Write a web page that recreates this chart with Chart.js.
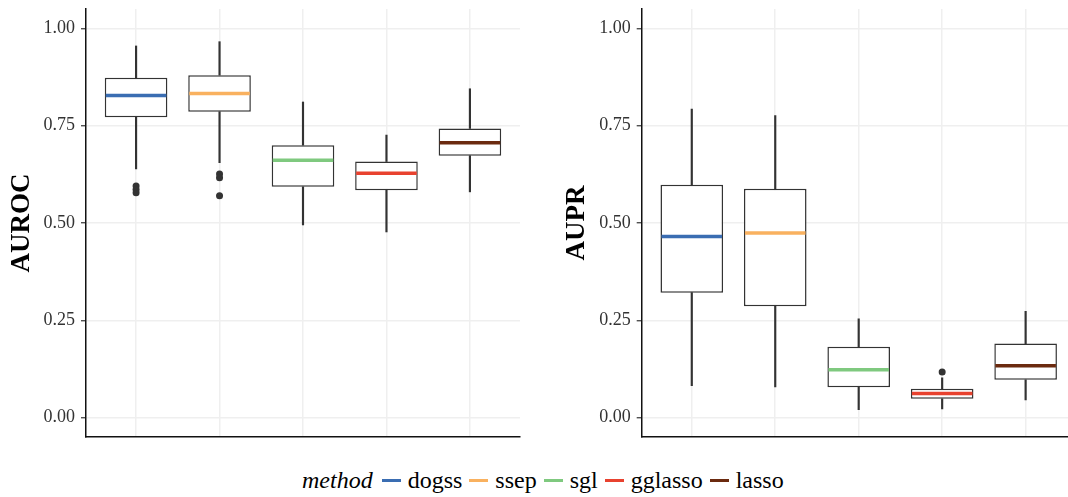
<!DOCTYPE html>
<html>
<head>
<meta charset="utf-8">
<script src="https://cdn.jsdelivr.net/npm/chart.js@4.4.1/dist/chart.umd.min.js"></script>
<style>
  body { margin: 0; background: #fff; overflow: hidden; width: 1068px; height: 497px; position: relative; }
  #left { position: absolute; left: 0; top: 0; }
  #right { position: absolute; left: 540px; top: 0; }
  .legend { position: absolute; left: 302px; top: 466px; height: 28px; line-height: 28px; display: flex; align-items: center;
            font-family: "Liberation Serif", "Times New Roman", serif; font-size: 24px; color: #000; white-space: nowrap; }
  .legend span { font-family: "Liberation Serif", "Times New Roman", serif; }
  .legend .ttl { font-style: italic; margin-right: 9px; }
  .legend .sw { width: 19px; height: 3px; margin-right: 7px; }
  .legend .lab { margin-right: 7px; }
</style>
</head>
<body>
<canvas id="left" width="540" height="450"></canvas>
<canvas id="right" width="545" height="450"></canvas>
<div class="legend" id="legend"><span class="ttl">method</span></div>
<script>
// methods and colours
const methods = ['dogss', 'ssep', 'sgl', 'gglasso', 'lasso'];
const colors = ['#3a6db2', '#f9b15f', '#7fc97f', '#e8422f', '#6b2a0f'];
const yTicks = [0, 0.25, 0.5, 0.75, 1];

// AUROC boxplot stats
const aurocMin = [0.639, 0.655, 0.495, 0.477, 0.580];
const aurocQ1  = [0.772, 0.786, 0.593, 0.584, 0.673];
const aurocMed = [0.828, 0.833, 0.661, 0.628, 0.706];
const aurocQ3  = [0.873, 0.880, 0.700, 0.658, 0.743];
const aurocMax = [0.955, 0.966, 0.811, 0.726, 0.845];
const aurocOut = [[0.595, 0.586, 0.578], [0.626, 0.616, 0.570], [], [], []];

// AUPR boxplot stats
const auprMin = [0.082, 0.079, 0.020, 0.022, 0.045];
const auprQ1  = [0.321, 0.286, 0.078, 0.048, 0.097];
const auprMed = [0.465, 0.474, 0.123, 0.062, 0.133];
const auprQ3  = [0.598, 0.588, 0.182, 0.074, 0.190];
const auprMax = [0.793, 0.776, 0.254, 0.102, 0.273];
const auprOut = [[], [], [], [0.117], []];

Chart.defaults.font.family = "'Liberation Serif', serif";
Chart.defaults.color = '#333';

function medianPlugin(meds) {
  return {
    id: 'medians',
    afterDatasetsDraw(chart) {
      const ctx = chart.ctx;
      const boxMeta = chart.getDatasetMeta(0);
      const ys = chart.scales.y;
      ctx.save();
      boxMeta.data.forEach((bar, i) => {
        const y = ys.getPixelForValue(meds[i]);
        ctx.strokeStyle = colors[i];
        ctx.lineWidth = 3.5;
        ctx.beginPath();
        ctx.moveTo(bar.x - bar.width / 2 + 1, y);
        ctx.lineTo(bar.x + bar.width / 2 - 1, y);
        ctx.stroke();
      });
      ctx.restore();
    }
  };
}

function makePanel(id, title, mins, q1, meds, q3, maxs, outs, yWidth, padRight, titlePad) {
  const xs = methods.map((m, i) => i + 1);
  const pts = [];
  outs.forEach((arr, i) => arr.forEach(v => pts.push({ x: i + 1, y: v })));
  new Chart(document.getElementById(id), {
    type: 'bar',
    data: {
      datasets: [
        {
          data: xs.map((x, i) => ({ x: x, y: [q1[i], q3[i]] })),
          backgroundColor: '#fff', borderColor: '#333', borderWidth: 1.5, borderSkipped: false,
          grouped: false, categoryPercentage: 0.75, barPercentage: 1
        },
        {
          data: xs.map((x, i) => ({ x: x, y: [q3[i], maxs[i]] })),
          backgroundColor: '#333', borderWidth: 0, grouped: false, barThickness: 1.5
        },
        {
          data: xs.map((x, i) => ({ x: x, y: [mins[i], q1[i]] })),
          backgroundColor: '#333', borderWidth: 0, grouped: false, barThickness: 1.5
        },
        {
          type: 'scatter', data: pts, pointRadius: 3.5, pointBackgroundColor: '#333',
          pointBorderWidth: 0, showLine: false
        }
      ]
    },
    options: {
      responsive: false, animation: false, devicePixelRatio: 1,
      layout: { padding: { top: 9, right: padRight, bottom: 13, left: 0 } },
      plugins: { legend: { display: false }, tooltip: { enabled: false } },
      scales: {
        x: {
          type: 'linear', min: 0.4, max: 5.6, offset: false,
          afterBuildTicks: s => { s.ticks = xs.map(v => ({ value: v })); },
          afterFit: s => { s.paddingLeft = 0; s.paddingRight = 0; },
          ticks: { display: false },
          grid: { color: '#efefef', lineWidth: 1.5, drawTicks: false, tickLength: 0, offset: false },
          border: { display: true, color: '#111', width: 1.5 }
        },
        y: {
          min: -0.05, max: 1.05,
          afterBuildTicks: s => { s.ticks = yTicks.map(v => ({ value: v })); },
          afterFit: s => { s.width = yWidth; s.paddingTop = 0; s.paddingBottom = 0; },
          ticks: { callback: v => v.toFixed(2), font: { size: 18 }, color: '#333', padding: 6 },
          grid: { color: '#efefef', lineWidth: 1.5, tickLength: 5, tickColor: '#333', tickWidth: 1.2 },
          border: { display: true, color: '#111', width: 1.5 },
          title: { display: true, text: title, color: '#000', font: { size: 27, weight: 'bold' },
                   padding: { top: titlePad, bottom: 0 } }
        }
      }
    },
    plugins: [medianPlugin(meds)]
  });
}

makePanel('left', 'AUROC', aurocMin, aurocQ1, aurocMed, aurocQ3, aurocMax, aurocOut, 86, 20, 6);
makePanel('right', 'AUPR', auprMin, auprQ1, auprMed, auprQ3, auprMax, auprOut, 101.7, 9.3, 21);

// legend
const lg = document.getElementById('legend');
methods.forEach((m, i) => {
  const sw = document.createElement('span');
  sw.className = 'sw';
  sw.style.background = colors[i];
  const lab = document.createElement('span');
  lab.className = 'lab';
  lab.textContent = m;
  lg.appendChild(sw);
  lg.appendChild(lab);
});
</script>
</body>
</html>
